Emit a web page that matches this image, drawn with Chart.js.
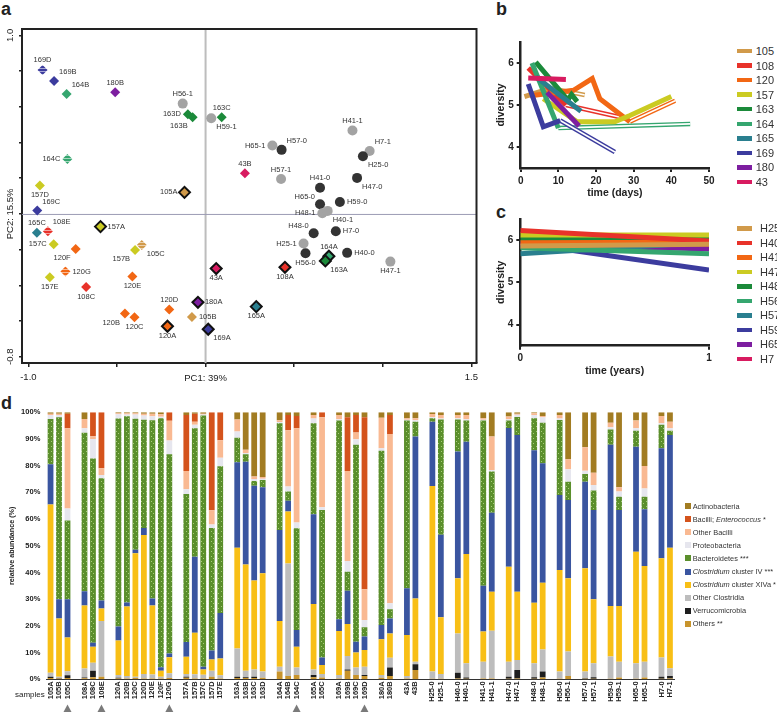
<!DOCTYPE html>
<html>
<head>
<meta charset="utf-8">
<script src="https://cdn.jsdelivr.net/npm/chart.js@4.4.1/dist/chart.umd.min.js"></script>
<style>
  body { margin: 0; background: #fff; width: 777px; height: 712px; position: relative; overflow: hidden;
         font-family: "Liberation Sans", Arial, sans-serif; color: #222; }
  canvas { position: absolute; }
  .tag { position: absolute; font-weight: bold; font-size: 18px; line-height: 1; }
  .leg { position: absolute; display: flex; align-items: center; white-space: nowrap; }
  .leg span.sw { display: inline-block; }
</style>
</head>
<body>
<div class="tag" style="left:1px;top:0px">a</div>
<div class="tag" style="left:496px;top:0px">b</div>
<div class="tag" style="left:496px;top:203px">c</div>
<div class="tag" style="left:1px;top:394px">d</div>
<canvas id="pca" width="484" height="392" style="left:0;top:0"></canvas>
<canvas id="days" width="290" height="205" style="left:440px;top:0"></canvas>
<canvas id="years" width="290" height="180" style="left:440px;top:205px"></canvas>
<canvas id="abund" width="690" height="317" style="left:0;top:395px"></canvas>
<div style="position:absolute;left:15px;top:689px;font-size:8px;line-height:12px">samples</div>
<script>
// ---- panel a: PCA ----
const patSamples = ['169D','169B','164B','180B','163D','163B','163C','164C','43B','157D','105A','169C','165C',
  '108E','157A','157C','120F','157B','105C','120G','157E','108C','120E','43A','120D','180A','120B','120C',
  '105B','120A','169A','164A','163A','108A','165A'];
const patPC1 = [-0.92,-0.855,-0.784,-0.51,-0.10,-0.073,0.091,-0.78,0.222,-0.935,-0.119,-0.95,-0.952,
  -0.89,-0.593,-0.857,-0.733,-0.398,-0.36,-0.791,-0.879,-0.674,-0.413,0.06,-0.205,-0.043,-0.455,-0.401,
  -0.077,-0.215,0.015,0.696,0.676,0.448,0.286];
const patPC2 = [0.807,0.745,0.672,0.682,0.558,0.542,0.542,0.308,0.228,0.159,0.121,0.019,-0.106,
  -0.097,-0.071,-0.17,-0.196,-0.202,-0.174,-0.323,-0.355,-0.409,-0.351,-0.306,-0.536,-0.495,-0.558,-0.579,
  -0.577,-0.629,-0.646,-0.237,-0.263,-0.299,-0.519];
const hSamples = ['H56-1','H59-1','H41-1','H65-1','H57-0','H7-1','H25-0','H57-1','H47-0','H41-0','H65-0',
  'H59-0','H48-1','H40-1','H48-0','H7-0','H25-1','H56-0','H40-0','H47-1'];
const hPC1 = [-0.129,0.032,0.829,0.377,0.429,0.926,0.888,0.426,0.855,0.646,0.646,0.758,0.659,0.689,0.61,
  0.735,0.553,0.564,0.799,1.043];
const hPC2 = [0.618,0.536,0.467,0.383,0.359,0.353,0.323,0.196,0.202,0.147,0.054,0.067,0.004,0.017,-0.108,
  -0.097,-0.166,-0.22,-0.218,-0.267];
const pcaXTicks = [-1, -0.5, 0, 0.5, 1, 1.5];
const pcaYTicks = [-0.8, -0.6, -0.4, -0.2, 0, 0.2, 0.4, 0.6, 0.8, 1.0];
const hatchedSamples = ['105C', '108E', '120G', '164C', '169D'];

// ---- panel b: diversity over days ----
const patients = ['105','108','120','157','163','164','165','169','180','43'];
const sampleDays = [[1,8,17],[2,12,28],[2.5,8,14,19,21,29,41],[6,15,25,29,40],[4,12.5,13.5,15],
  [3,10,45],[4,16],[2,6,10.5,25],[7,15.5],[2,12]];
const sampleDiversity = [[5.2,5.4,5.24],[5.88,5.0,4.68],[5.22,5.28,5.35,5.63,5.15,4.6,5.1],
  [5.15,4.6,4.6,4.75,5.2],[6.02,5.12,5.25,5.08],[6.0,4.45,4.55],[5.67,4.85],[5.5,4.48,4.63,3.88],
  [5.3,4.5],[5.64,5.61]];

// ---- panel c: healthy, 1 year apart ----
const healthy = ['H25','H40','H41','H47','H48','H56','H57','H59','H65','H7'];
const divYear0 = [5.86,6.23,5.94,6.12,6.02,5.82,5.68,5.93,5.90,5.85];
const divYear1 = [5.90,5.98,5.95,6.12,6.05,5.68,5.95,5.29,5.79,5.83];

// ---- panel d: relative abundance ----
const samples = ['105A','105B','105C','108A','108C','108E','120A','120B','120C','120D','120E','120F','120G',
  '157A','157B','157C','157D','157E','163A','163B','163C','163D','164A','164B','164C','165A','165C',
  '169A','169B','169C','169D','180A','180B','43A','43B','H25-0','H25-1','H40-0','H40-1','H41-0','H41-1',
  'H47-0','H47-1','H48-0','H48-1','H56-0','H56-1','H57-0','H57-1','H59-0','H59-1','H65-0','H65-1','H7-0','H7-1'];
const others = [0.5,0.3,0.5, 0.4,0.8,1.0, 0.3,0.3,0.5,0.3,0.3,0.3,0.5, 0.6,0.3,0.3,1.0,0.3, 0.5,0.5,0.5,0.6,
  2.9,1.2,1.6, 0.8,0.7, 0.3,3.2,1.6,1.2, 0.6,1.2, 0.3,3.5, 0.2,0.2, 0.3,0.2, 0.3,0.3, 0.2,0.3, 0.2,0.7,
  0.2,1.2, 0.2,0.2, 0.2,0.7, 0.2,0.7, 0.2,0.3];
const verruco = [0.5,0.2,1.0, 0.3,2.4,0, 0.3,0,0,0,0,0,0, 0.4,0,0,0,0, 0.5,0.3,0.5,0, 0,0,0, 0.8,0,
  0,0.5,0,0.4, 0,3.2, 0,2.1, 0,0, 2.2,0.5, 0,0, 0.8,3.2, 0.6,2.2, 0,0, 0.2,0.6, 0,0, 0,0, 0.8,0.9];
const otherClost = [1.5,0.5,1.5, 3.3,3.0,20.8, 1.0,0.9,0.5,1.7,1.5,0.7,1.8, 1.0,1.6,1.4,2.2,1.2,
  10.5,2.4,2.7,2.3, 1.8,42.2,2.8, 2.1,1.3, 1.3,5.0,2.8,3.1, 1.0,3.7, 0.9,1.0, 2.7,1.8, 14.7,5.3, 6.3,17.9,
  5.6,3.7, 5.2,8.3, 2.7,9.2, 2.5,5.2, 8.3,5.9, 5.8,5.9, 7.2,2.9];
const clostXIVa = [63,21.8,12.7, 23.6,6.0,4.7, 12.9,26.1,46.2,52,25.8,2.2,6.0, 6.4,15.5,2.0,4.2,6.3,
  37.8,39.8,33.3,36.8, 17.1,19.4,7.8, 24.5,3.4, 16.5,12,5.6,6.3, 13.4,9.1, 15.4,23.7, 69.5,21.2, 20.6,40.9,
  11.3,14.6, 35.6,25.6, 22.7,25, 38,27.4, 38.7,24, 19,20.9, 41.8,35.8, 37.1,45.2];
const clostIV = [15,7.2,14.3, 5.4,1.5,3.0, 5.3,1.5,1.3,2.7,2.7,1.3,1.4, 5.6,28.5,1.0,3.4,17,
  32,38.5,35.5,32.2, 34.1,4.1,6.3, 33.6,2.8, 4.4,12.5,4.1,5.0, 5.3,5.6, 17.5,60.6, 24.1,30.9, 47.5,42.1,
  17.1,29.6, 51.9,58.7, 57.1,44.7, 28.1,29.4, 32.4,33.4, 60.3,35.9, 39.3,21.3, 41.2,42.2];
const bacteroid = [17,68.1,29.5, 59.3,69,45.8, 77.9,69.7,49.1,40.5,66.7,93.3,74.6, 55.4,48.1,94.1,45.9,55,
  9.2,2.8,1.8,2.7, 40,3.4,38.1, 34.1,55.2, 74.4,7.1,73.7,3.5, 65.3,3.4, 62.8,5.6, 1.3,43.2, 12,7.9,
  61.9,15.4, 2.8,6.7, 12,15.2, 28.1,6.8, 2.9,7.3, 5.8,5, 6,4.7, 8.8,1.6];
const proteo = [1.5,0.9,4.5, 1.7,7.3,1.2, 1.6,0.7,1.6,1.6,1.5,0.5,5.1, 1.8,1.3,0.4,1.3,3.2, 2.3,0.5,0.7,0.5,
  0.5,1.9,2.1, 1.8,1.0, 0.5,4.0,2.1,2.7, 0.9,2.3, 0.3,0.5, 0.4,0.4, 0.5,0.5, 0.3,0.6, 0.5,0.9, 1.2,2.0,
  0.6,4.7, 1.2,2.1, 0.8,1.9, 0.9,3.1, 0.6,0.9];
const otherBacilli = [0.5,0.5,30, 3.5,1.0,2.5, 0.3,0.4,0.4,0.7,1.0,1.0,7.4, 6.8,1.2,0.3,5.3,6.5,
  4.5,1.2,1.0,0.7, 0.6,21.1,35.3, 1.3,33.7, 1.6,33.7,2.5,11.5, 11.5,63.4, 0.6,0.8, 1.2,1.3, 1.2,1.6,
  0.6,12.5, 1.0,0.4, 0.6,0.5, 1.3,3.7, 8.8,4.6, 1.7,1.6, 2.9,8.4, 2.7,2.5];
const enterococcus = [0,0,5.5, 0,9.0,21, 0,0,0,0,0,0,3.2, 21,3.0,0,36.7,10.5, 0,0,0,0, 0,5.7,4.6, 0,1.9,
  0,20.1,6.6,64.4, 0,7.1, 0,0, 0,0, 0,0, 0,0, 0,0, 0,0, 0,0, 0,0, 0,0, 0,0, 0,0];
const actino = [0.5,0.5,0.5, 2.5,0,0, 0.4,0.4,0.4,0.5,0.5,0.7,0, 1.0,0.5,0.5,0,0, 2.7,14,24,24.2,
  3.0,1.0,1.4, 1.0,0, 1.0,1.9,1.0,1.9, 2.0,1.0, 2.2,2.2, 0.6,1.0, 1.0,1.0, 2.2,9.1, 1.6,0.5, 0.4,1.4,
  1.0,17.6, 13.1,22.6, 3.9,28.1, 3.1,20.1, 1.4,3.5];
const abundTicks = [0,10,20,30,40,50,60,70,80,90,100];

// ---- styles ----
const FONT = '"Liberation Sans", Arial, sans-serif';
Chart.defaults.font.family = FONT;
Chart.defaults.color = '#222';
Chart.defaults.animation = false;
Chart.defaults.responsive = false;
Chart.defaults.plugins.legend.display = false;
Chart.defaults.plugins.tooltip.enabled = false;

const patColor = { '105':'#d19a4a', '108':'#e8322a', '120':'#f26714', '157':'#cbcb22', '163':'#1b8a3a',
  '164':'#35a66f', '165':'#2a7f8f', '169':'#3c3c9e', '180':'#7d1ea0', '43':'#d81b60' };
const healthyColor = ['#d19a4a','#e8322a','#f26714','#cbcb22','#1b8a3a','#35a66f','#2a7f8f','#3c3c9e','#7d1ea0','#d81b60'];

function hatch(color) {
  const c = document.createElement('canvas');
  c.width = 3; c.height = 3;
  const g = c.getContext('2d');
  g.fillStyle = color; g.fillRect(0, 0, 3, 3);
  g.fillStyle = 'rgba(255,255,255,0.55)'; g.fillRect(0, 2, 3, 1);
  return g.createPattern(c, 'repeat');
}
function dotted(color, dot) {
  const c = document.createElement('canvas');
  c.width = 5; c.height = 5;
  const g = c.getContext('2d');
  g.fillStyle = color; g.fillRect(0, 0, 5, 5);
  g.fillStyle = dot; g.fillRect(1, 1, 1, 1); g.fillRect(3, 3, 1, 1);
  return g.createPattern(c, 'repeat');
}
const group = s => s.match(/^H?\d+/)[0];

// where each point label sits relative to its marker
const labelSide = {
  '169D':'t','169B':'tr','164B':'tr','180B':'t','163D':'l','163B':'bl','163C':'t','164C':'l','43B':'t',
  '157D':'b','105A':'l','169C':'tr','165C':'t','108E':'tr','157A':'r','157C':'l','120F':'bl','157B':'bl',
  '105C':'br','120G':'r','157E':'b','108C':'b','120E':'b','43A':'b','120D':'t','180A':'r','120B':'bl',
  '120C':'b','105B':'r','120A':'b','169A':'br','164A':'t','163A':'br','108A':'b','165A':'b',
  'H56-1':'t','H59-1':'br','H41-1':'t','H65-1':'l','H57-0':'tr','H7-1':'tr','H25-0':'br','H57-1':'t',
  'H47-0':'br','H41-0':'t','H65-0':'tl','H59-0':'r','H48-1':'l','H40-1':'br','H48-0':'tl','H7-0':'r',
  'H25-1':'l','H56-0':'b','H40-0':'r','H47-1':'b'
};
const sideOff = { t:[0,-9.5,'center'], b:[0,9.5,'center'], l:[-7,0,'right'], r:[7,0,'left'],
  tr:[5,-9,'left'], br:[5,9,'left'], bl:[-5,9,'right'], tl:[-5,-7.5,'right'] };

const pcaDecor = {
  id: 'pcaDecor',
  beforeDatasetsDraw(chart) {
    const { ctx, chartArea: ca, scales: { x, y } } = chart;
    const x0 = x.getPixelForValue(0), y0 = y.getPixelForValue(0);
    ctx.save();
    ctx.strokeStyle = '#bdbdbd'; ctx.lineWidth = 2;
    ctx.beginPath(); ctx.moveTo(x0, ca.top); ctx.lineTo(x0, ca.bottom); ctx.stroke();
    ctx.strokeStyle = '#9c9cb4'; ctx.lineWidth = 1;
    ctx.beginPath(); ctx.moveTo(ca.left, y0 + 0.5); ctx.lineTo(ca.right, y0 + 0.5); ctx.stroke();
    ctx.strokeStyle = '#222'; ctx.lineWidth = 2;
    ctx.beginPath(); ctx.moveTo(ca.left, ca.top); ctx.lineTo(ca.right, ca.top); ctx.lineTo(ca.right, ca.bottom); ctx.stroke();
    ctx.fillStyle = '#222'; ctx.font = '9.5px ' + FONT; ctx.textBaseline = 'middle'; ctx.textAlign = 'center';
    ctx.fillText('PC1: 39%', x0, 378);
    ctx.translate(10.5, y0); ctx.rotate(-Math.PI / 2);
    ctx.fillText('PC2: 15.5%', 0, 0);
    ctx.restore();
  },
  afterDatasetsDraw(chart) {
    const ctx = chart.ctx;
    ctx.save();
    ctx.fillStyle = '#333'; ctx.font = '7.5px ' + FONT; ctx.textBaseline = 'middle';
    chart.data.datasets.forEach((ds, i) => {
      chart.getDatasetMeta(i).data.forEach((pt, j) => {
        const name = ds.data[j].name;
        const o = sideOff[labelSide[name] || 'r'];
        ctx.textAlign = o[2];
        ctx.fillText(name, pt.x + o[0], pt.y + o[1]);
      });
    });
    ctx.restore();
  }
};

new Chart(document.getElementById('pca'), {
  type: 'scatter',
  data: {
    datasets: [
      {
        data: hSamples.map((s, i) => ({ x: hPC1[i], y: hPC2[i], name: s })),
        pointStyle: 'circle', pointRadius: 5, pointBorderWidth: 0,
        pointBackgroundColor: hSamples.map(s => s.endsWith('-0') ? '#333333' : '#a3a3a3'),
        order: 2
      },
      {
        data: patSamples.map((s, i) => ({ x: patPC1[i], y: patPC2[i], name: s })),
        pointStyle: 'rectRot',
        pointRadius: patSamples.map(s => s.endsWith('A') ? 5.5 : 5),
        pointBackgroundColor: patSamples.map(s => hatchedSamples.includes(s) ? hatch(patColor[group(s)]) : patColor[group(s)]),
        pointBorderColor: patSamples.map(s => s.endsWith('A') ? '#111' : patColor[group(s)]),
        pointBorderWidth: patSamples.map(s => s.endsWith('A') ? 2 : 0),
        order: 1
      }
    ]
  },
  options: {
    layout: { padding: { top: 29, right: 4, left: 0, bottom: 0 } },
    scales: {
      x: {
        type: 'linear', min: -1.036, max: 1.529,
        afterBuildTicks: s => { s.ticks = pcaXTicks.map(v => ({ value: v })); },
        afterFit: s => { s.height = 29; },
        grid: { display: true, drawOnChartArea: false, drawTicks: true, tickLength: 4, color: '#222', lineWidth: 1.5 },
        border: { color: '#222', width: 2 },
        ticks: { font: { size: 9.5 }, padding: 5, maxRotation: 0, autoSkip: false,
          callback: v => Math.abs(v + 1) < 1e-6 ? '-1.0' : (Math.abs(v - 1.5) < 1e-6 ? '1.5' : '') }
      },
      y: {
        type: 'linear', min: -0.835, max: 1.036,
        afterBuildTicks: s => { s.ticks = pcaYTicks.map(v => ({ value: v })); },
        afterFit: s => { s.width = 22; },
        grid: { display: true, drawOnChartArea: false, drawTicks: true, tickLength: 3, color: '#222', lineWidth: 1.5 },
        border: { color: '#222', width: 2 },
        ticks: { font: { size: 9.5 }, padding: 0, minRotation: 90, maxRotation: 90, crossAlign: 'center', autoSkip: false,
          callback: v => Math.abs(v - 1) < 1e-6 ? '1.0' : (Math.abs(v + 0.8) < 1e-6 ? '-0.8' : '') }
      }
    }
  },
  plugins: [pcaDecor]
});

// ---- shared axis styling for panels b and c ----
function prismAxis(extra) {
  return Object.assign({
    type: 'linear',
    grid: { display: true, drawOnChartArea: false, drawTicks: true, tickLength: 4, color: '#222', lineWidth: 2 },
    border: { color: '#222', width: 2.5 },
    ticks: { font: { size: 10, weight: 'bold' }, color: '#222', autoSkip: false, maxRotation: 0 }
  }, extra);
}

// ---- panel b ----
const isHatched = p => hatchedSamples.some(s => s.slice(0, -1) === p);
const daySets = [];
let z = 0;
const pushSet = ds => { ds.order = -(z++); daySets.push(ds); };
patients.forEach((p, i) => {
  if (!isHatched(p)) return;
  const n = sampleDays[i].length;
  const seg = [n - 2, n - 1].map(k => ({ x: sampleDays[i][k], y: sampleDiversity[i][k] }));
  pushSet({ data: seg, borderColor: patColor[p], borderWidth: 4.5 });
  pushSet({ data: seg, borderColor: '#ffffff', borderWidth: 1.6 });
});
patients.forEach((p, i) => {
  const pts = sampleDays[i].map((d, k) => ({ x: d, y: sampleDiversity[i][k] }));
  pushSet({ data: isHatched(p) ? pts.slice(0, -1) : pts, borderColor: patColor[p], borderWidth: 5 });
});

new Chart(document.getElementById('days'), {
  type: 'line',
  data: { datasets: daySets },
  options: {
    layout: { padding: { top: 42, right: 21, left: 54, bottom: 0 } },
    elements: { point: { radius: 0 }, line: { tension: 0, borderCapStyle: 'butt', borderJoinStyle: 'miter' } },
    scales: {
      x: prismAxis({ min: 0, max: 50,
        afterBuildTicks: s => { s.ticks = [0,10,20,30,40,50].map(v => ({ value: v })); },
        afterFit: s => { s.height = 37; },
        title: { display: true, text: 'time (days)', font: { size: 10.5, weight: 'bold' }, padding: { top: 0, bottom: 5.7 } } }),
      y: prismAxis({ min: 3.5, max: 6.5,
        afterBuildTicks: s => { s.ticks = [4,5,6].map(v => ({ value: v })); },
        afterFit: s => { s.width = 26.7; },
        title: { display: true, text: 'diversity', font: { size: 10.5, weight: 'bold' }, padding: { top: 0.7, bottom: 0 } } })
    }
  }
});
prismTicksPad();
function prismTicksPad() {}

// ---- panel c ----
new Chart(document.getElementById('years'), {
  type: 'line',
  data: {
    datasets: healthy.map((h, i) => ({
      data: [{ x: 0, y: divYear0[i] }, { x: 1, y: divYear1[i] }],
      borderColor: healthyColor[i], borderWidth: 5, order: i
    }))
  },
  options: {
    layout: { padding: { top: 14, right: 21, left: 54, bottom: 0 } },
    elements: { point: { radius: 0 }, line: { tension: 0, borderCapStyle: 'butt' } },
    scales: {
      x: prismAxis({ min: 0, max: 1,
        afterBuildTicks: s => { s.ticks = [0, 1].map(v => ({ value: v })); },
        afterFit: s => { s.height = 39.3; },
        title: { display: true, text: 'time (years)', font: { size: 10.5, weight: 'bold' }, padding: { top: 0, bottom: 7.7 } } }),
      y: prismAxis({ min: 3.5, max: 6.5,
        afterBuildTicks: s => { s.ticks = [4,5,6].map(v => ({ value: v })); },
        afterFit: s => { s.width = 26.3; },
        title: { display: true, text: 'diversity', font: { size: 10.5, weight: 'bold' }, padding: { top: 0.7, bottom: 0 } } })
    }
  }
});

// ---- panel d ----
const slots = [], slotOf = [];
samples.forEach((s, i) => {
  if (i > 0 && group(s) !== group(samples[i - 1])) slots.push('');
  slotOf.push(slots.length);
  slots.push(s);
});
const spread = arr => { const out = slots.map(() => null); arr.forEach((v, i) => { out[slotOf[i]] = v; }); return out; };

const taxa = [
  { label: 'Others **', data: others, color: '#c8942c' },
  { label: 'Verrucomicrobia', data: verruco, color: '#1e1e1e' },
  { label: 'Other Clostridia', data: otherClost, color: '#bdbdbd' },
  { label: '<i>Clostridium</i> cluster XIVa *', data: clostXIVa, color: '#f8bf16' },
  { label: '<i>Clostridium</i> cluster IV ***', data: clostIV, color: '#3a55a0' },
  { label: 'Bacteroidetes ***', data: bacteroid, color: '#5b8f2c', fill: dotted('#5b8f2c', '#a9cc7c') },
  { label: 'Proteobacteria', data: proteo, color: '#e6e6ee' },
  { label: 'Other Bacilli', data: otherBacilli, color: '#f9b992' },
  { label: 'Bacilli; <i>Enterococcus</i> *', data: enterococcus, color: '#d4531c' },
  { label: 'Actinobacteria', data: actino, color: '#a27c22' }
];

const triangles = {
  id: 'triangles',
  afterDraw(chart) {
    const { ctx, scales: { x } } = chart;
    ctx.save();
    ctx.fillStyle = '#7a7a7a';
    hatchedSamples.forEach(s => {
      const px = x.getPixelForValue(slotOf[samples.indexOf(s)]);
      ctx.beginPath();
      ctx.moveTo(px, 309.5); ctx.lineTo(px + 4.5, 318); ctx.lineTo(px - 4.5, 318); ctx.closePath();
      ctx.fill();
    });
    ctx.restore();
  }
};

new Chart(document.getElementById('abund'), {
  type: 'bar',
  data: {
    labels: slots,
    datasets: taxa.map(t => ({ label: t.label, data: spread(t.data), backgroundColor: t.fill || t.color,
      borderWidth: 0, barPercentage: 0.68, categoryPercentage: 1 }))
  },
  options: {
    layout: { padding: { top: 17.3, right: 15.8, left: 0, bottom: 0 } },
    scales: {
      x: {
        stacked: true,
        afterFit: s => { s.height = 32.7; },
        grid: { display: false, drawTicks: false },
        border: { display: true, color: '#333', width: 1 },
        ticks: { font: { size: 7.5, weight: 'bold' }, color: '#222', autoSkip: false, minRotation: 90, maxRotation: 90, padding: 2 }
      },
      y: {
        stacked: true, min: 0, max: 100,
        afterBuildTicks: s => { s.ticks = abundTicks.map(v => ({ value: v })); },
        afterFit: s => { s.width = 46.3; },
        grid: { display: false, drawTicks: false },
        border: { display: false },
        ticks: { font: { size: 7.5, weight: 'bold' }, color: '#222', padding: 6, callback: v => v + '%' },
        title: { display: true, text: 'relative abundance (%)', font: { size: 7.2, weight: 'bold' }, padding: { top: 7.7, bottom: 0 } }
      }
    }
  },
  plugins: [triangles]
});

// ---- legends ----
function legend(items, left, firstY, step, sw, gap, fontSize) {
  items.forEach((it, i) => {
    const d = document.createElement('div');
    d.className = 'leg';
    d.style.left = left + 'px';
    d.style.top = (firstY + i * step - 7) + 'px';
    d.style.height = '14px';
    d.style.fontSize = fontSize + 'px';
    d.style.color = '#333';
    d.innerHTML = '<span class="sw" style="width:' + sw[0] + 'px;height:' + sw[1] + 'px;background:' + it.color +
      ';margin-right:' + gap + 'px"></span><span>' + it.label + '</span>';
    document.body.appendChild(d);
  });
}
legend(patients.map(p => ({ label: p, color: patColor[p] })), 737, 51, 14.55, [15, 4.5], 3.7, 11);
legend(healthy.map((h, i) => ({ label: h, color: healthyColor[i] })), 737, 228.3, 14.5, [15, 4.5], 8, 11);
legend(taxa.slice().reverse().map(t => ({ label: t.label, color: t.color })), 685, 506, 13.1, [6, 6], 1.7, 7.4);
</script>
</body>
</html>
